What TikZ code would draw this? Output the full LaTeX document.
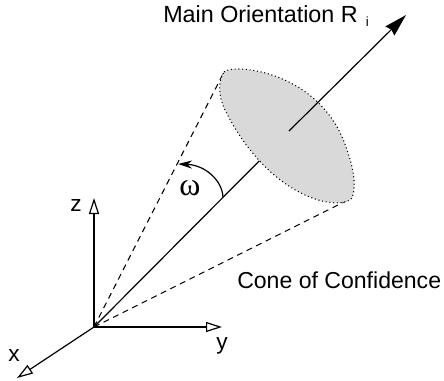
\documentclass[tikz,border=0pt]{standalone}
\usepackage{fontspec}
\setmainfont{Liberation Sans}
\newfontfamily\greekfont{Liberation Serif}
\usepackage{color}
\usetikzlibrary{arrows.meta}
\definecolor{lens}{RGB}{217, 217, 217}
\newcommand*{\lw}{0.9}

\begin{document}
\begin{tikzpicture}[
   x=0.75pt, y=-0.75pt,
   axisline/.style={draw=black, line width=\lw, -{Triangle[open, fill=white, length=12, width=7.5]}},
   coneline/.style={draw=black, line width=0.8, dash pattern=on 4.5pt off 3.5pt},
   lenspatch/.style={fill=lens, draw=black, line width=0.8, dash pattern=on 0.8pt off 2pt},
   mainarrow/.style={draw=black, line width=\lw, -{Stealth[length=17, width=9.5, inset=1.5]}},
   axislabel/.style={inner sep=0, font=\fontsize{17}{18}\selectfont},
   textlabel/.style={inner sep=0, anchor=west, font=\fontsize{17.5}{20}\selectfont}
  ]

  \useasboundingbox (0, 0) rectangle (444, 380);

  % Key Points
  \coordinate (O) at (94, 327);
  \coordinate (Xend) at (17, 378);
  \coordinate (Yend) at (222, 327);
  \coordinate (Zend) at (94, 198);
  \coordinate (Ctop) at (224, 72);
  \coordinate (Cbot) at (352, 198);
  \coordinate (Mid) at (289, 131);
  \coordinate (Tip) at (406, 15);
  \coordinate (ArcA) at (223, 197);
  \coordinate (ArcB) at (178, 164);

  \draw[coneline] (O) -- (Ctop);
  \draw[coneline] (O) -- (Cbot);
  \draw[line width=\lw] (O) -- (Mid);

  % Lens Patch
  \draw[lenspatch] (Ctop) .. controls (232, 63) and (322, 70) .. (347, 150)
     .. controls (356, 175) and (355, 190) .. (352, 198)
     .. controls (340, 212) and (270, 200) .. (225, 110)
     .. controls (218, 95) and (218, 82) .. (Ctop) -- cycle;

  \draw[mainarrow] (Mid) -- (Tip);

  \foreach \E in {Xend, Yend, Zend} {
    \draw[axisline] (O) -- (\E);
  }

  \draw[line width=\lw, -{Stealth[length=10.5, width=6]}] (ArcA) .. controls (222, 180) and (205, 165) .. (ArcB);

  \node (Zlab) at (76, 206) [axislabel] {z};
  \node (Ylab) at (222, 346) [axislabel] {y};
  \node (Xlab) at (14, 356) [axislabel] {x};
  \node (Wlab) at (190, 188) [inner sep=0] {\fontsize{24}{26}\selectfont\greekfont\symbol{"03C9}};
  \node (Mlab) at (163, 16) [textlabel] {Main Orientation R\kern 6pt\raisebox{-3.5pt}{\fontsize{10}{11}\selectfont i}};
  \node (Clab) at (237, 280) [textlabel, font=\fontsize{17.3}{20}\selectfont] {Cone of Confidence};

\end{tikzpicture}
\end{document}
